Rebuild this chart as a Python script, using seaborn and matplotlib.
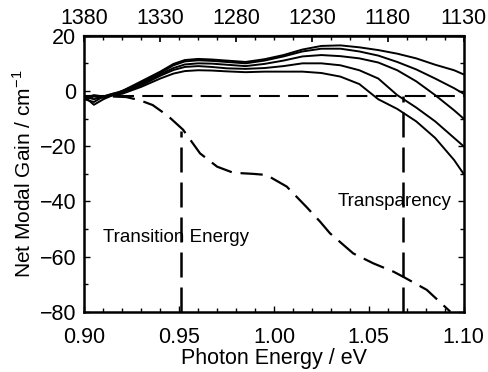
import numpy as np
import pandas as pd
import matplotlib
matplotlib.use("Agg")
import matplotlib.pyplot as plt
import seaborn as sns

# ---- data ----
energy = [0.900, 0.905, 0.910, 0.915, 0.920, 0.930, 0.940, 0.947, 0.953, 0.960, 0.967,
          0.975, 0.985, 0.995, 1.005, 1.015, 1.025, 1.035, 1.045, 1.055, 1.065,
          1.075, 1.085, 1.095, 1.100]
gain_a = [-3, -2, -2.5, -1.5, 0, 3.5, 7, 9.8, 11.2, 11.6, 11.4, 11, 10.5, 11.5, 13, 15,
          16.3, 16.5, 15.8, 14.8, 13.5, 11.8, 9.5, 7.5, 6]
gain_b = [-2, -3, -2, -1.5, 0, 3, 6.5, 9.3, 10.7, 11.1, 10.9, 10.5, 10, 11, 12.5, 14.3,
          15.3, 15.3, 14.3, 12.8, 10.5, 7.8, 4.5, 1, -1]
gain_c = [-2.5, -1.5, -2, -1, 0, 2.5, 6, 8.3, 9.6, 10, 9.9, 9.5, 9, 9.8, 11, 12.5, 13,
          12.6, 11.8, 10.3, 7.5, 3.5, -1.5, -7, -10]
gain_d = [-3, -4, -2, -1, -0.5, 2, 5.5, 7.6, 8.7, 9, 8.7, 8.2, 8, 8.3, 9, 10, 10, 9.3,
          7.5, 4.5, -1.5, -6, -11, -17, -20]
gain_e = [-2, -5, -3, -1.5, -1, 1.5, 4.5, 6.3, 7.2, 7.5, 7.4, 7.1, 6.8, 7, 7, 7, 6.5,
          5.2, 2.5, -3, -6.5, -11, -17, -25, -30]

trans_energy = [0.915, 0.922, 0.929, 0.936, 0.944, 0.952, 0.961, 0.970, 0.9785,
                0.989, 0.996, 1.0067, 1.017, 1.0243, 1.0295, 1.0418, 1.0524,
                1.063, 1.068, 1.0806, 1.093]
trans_gain = [-2, -2.2, -3.3, -5.1, -9, -14, -22.6, -27.4, -29.6, -30, -30.4, -34.6,
              -41.9, -47.3, -51.5, -58.8, -62.4, -65.4, -67.2, -72, -79.9]

loss_level = -2
transition_e = 0.951
transition_top = -14.5
transparency_e = 1.068
transparency_top = -2

top_tick_pos = [0.90, 0.94, 0.98, 1.02, 1.06, 1.10]
top_tick_labels = ["1380", "1330", "1280", "1230", "1180", "1130"]

# ---- figure ----
sns.set_theme(style="ticks")
plt.rcParams["font.family"] = ["Liberation Sans", "DejaVu Sans"]
plt.rcParams["mathtext.fontset"] = "custom"
plt.rcParams["mathtext.rm"] = "Liberation Sans"
plt.rcParams["text.color"] = "black"
plt.rcParams["axes.labelcolor"] = "black"

fig = plt.figure(figsize=(4.88, 3.72), dpi=100)
ax = fig.add_axes([0.173, 0.1613, 0.777, 0.7427])

long_df = []
for name, g in zip("ABCDE", [gain_a, gain_b, gain_c, gain_d, gain_e]):
    long_df.append(pd.DataFrame({"energy": energy, "gain": g, "curve": name}))
long_df = pd.concat(long_df, ignore_index=True)

for name, sub in long_df.groupby("curve"):
    sns.lineplot(data=sub, x="energy", y="gain", ax=ax, color="black", lw=1.4,
                 sort=False, estimator=None, legend=False)

dash = (10, 4)
ax.axhline(loss_level, color="black", lw=1.5, dashes=dash)
ax.plot(trans_energy, trans_gain, color="black", lw=1.6, dashes=dash)
ax.plot([transition_e, transition_e], [-80, transition_top], color="black", lw=1.8,
        dashes=dash)
ax.plot([transparency_e, transparency_e], [-80, transparency_top], color="black",
        lw=1.8, dashes=dash)

ax.text(0.9098, -53.2, "Transition Energy", fontsize=13.5, va="center", ha="left")
ax.text(1.0338, -40.1, "Transparency", fontsize=13.5, va="center", ha="left")

ax.set_xlim(0.90, 1.10)
ax.set_ylim(-80, 20)
ax.set_xticks([0.90, 0.95, 1.00, 1.05, 1.10])
ax.set_xticklabels(["0.90", "0.95", "1.00", "1.05", "1.10"])
ax.set_xticks(np.arange(0.90, 1.1001, 0.01), minor=True)
ax.set_yticks([20, 0, -20, -40, -60, -80])
ax.set_yticks(np.arange(-80, 21, 10), minor=True)

ax.tick_params(axis="both", which="both", direction="in", labelsize=15.5,
               colors="black", width=1.0)
ax.tick_params(axis="x", which="major", length=4, pad=11)
ax.tick_params(axis="x", which="minor", length=3)
ax.tick_params(axis="y", which="major", length=4, pad=6, right=True)
ax.tick_params(axis="y", which="minor", length=3, right=True)

sec = ax.secondary_xaxis("top")
sec.set_xticks(top_tick_pos)
sec.set_xticklabels(top_tick_labels)
sec.set_xticks(np.arange(0.90, 1.1001, 0.01), minor=True)
sec.tick_params(axis="x", which="both", direction="in", labelsize=15.5, pad=5,
                colors="black")
sec.tick_params(axis="x", which="major", length=4)
sec.tick_params(axis="x", which="minor", length=3)
sec.spines["top"].set_linewidth(1.6)

for s in ax.spines.values():
    s.set_linewidth(1.8)
    s.set_color("black")

ax.set_xlabel("Photon Energy / eV", fontsize=15.5, labelpad=0)
ax.set_ylabel("Net Modal Gain / cm$^{-1}$", fontsize=15, labelpad=3)

fig.savefig("out.png", dpi=100)
